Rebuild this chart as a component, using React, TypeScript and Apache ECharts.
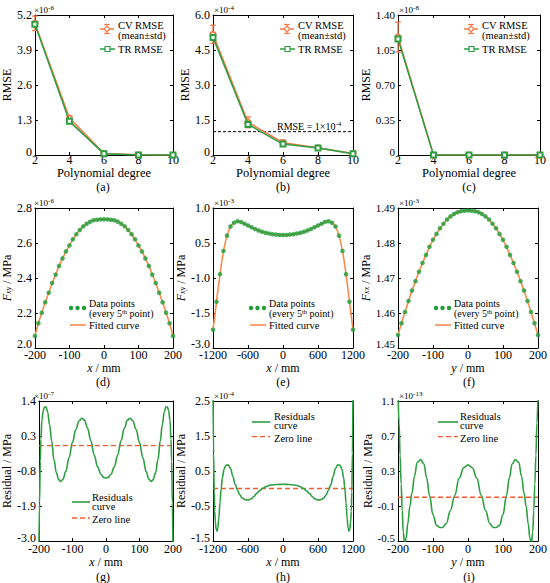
import React, { useEffect, useRef } from "react";
import * as echarts from "echarts";

const FONT = "Liberation Serif";
const ORANGE = "#F47846";
const GREEN = "#2E9E42";
const DOT_GREEN = "#1F9E3A";
const FIT_ORANGE = "#F98C4E";
const ZERO_RED = "#F25C36";

// ---------- Row 1: RMSE vs polynomial degree ----------
const degrees = [2, 4, 6, 8, 10];
const degreeTicks = [2, 4, 6, 8, 10];
const degreeLabels = ["2", "4", "6", "8", "10"];

const cvMeanA = [4.89, 1.37, 0.06, 0.01, 0.0];
const cvStdA = [0.27, 0.08, 0.02, 0.0, 0.0];
const trA = [4.86, 1.25, 0.05, 0.0, 0.0];
const yTicksA = [0, 1.3, 2.6, 3.9, 5.2];
const yLabelsA = ["0", "1.3", "2.6", "3.9", "5.2"];

const cvMeanB = [5.17, 1.4, 0.53, 0.31, 0.06];
const cvStdB = [0.39, 0.23, 0.12, 0.03, 0.01];
const trB = [5.04, 1.31, 0.47, 0.3, 0.05];
const thresholdB = 1.0;
const yTicksB = [0, 1.5, 3.0, 4.5, 6.0];
const yLabelsB = ["0", "1.5", "3.0", "4.5", "6.0"];

const cvMeanC = [1.18, 0.0, 0.0, 0.0, 0.0];
const cvStdC = [0.15, 0.0, 0.0, 0.0, 0.0];
const trC = [1.16, 0.0, 0.0, 0.0, 0.0];
const yTicksC = [0, 0.35, 0.7, 1.05, 1.4];
const yLabelsC = ["0", "0.35", "0.70", "1.05", "1.40"];

// ---------- Row 2: fitted functions ----------
const xD = [-200, -190, -180, -170, -160, -150, -140, -130, -120, -110, -100, -90, -80, -70, -60, -50, -40, -30, -20, -10, 0,
  10, 20, 30, 40, 50, 60, 70, 80, 90, 100, 110, 120, 130, 140, 150, 160, 170, 180, 190, 200];
const fD = [2.069, 2.141, 2.202, 2.261, 2.316, 2.371, 2.419, 2.469, 2.512, 2.552, 2.586, 2.621, 2.65, 2.674, 2.695, 2.71, 2.722, 2.73, 2.733, 2.735, 2.736,
  2.735, 2.733, 2.73, 2.722, 2.71, 2.695, 2.674, 2.65, 2.621, 2.586, 2.552, 2.512, 2.469, 2.419, 2.371, 2.316, 2.261, 2.202, 2.141, 2.069];
const xTicksD = [-200, -100, 0, 100, 200];
const xLabelsD = ["-200", "-100", "0", "100", "200"];
const yTicksD = [2.0, 2.2, 2.4, 2.6, 2.8];
const yLabelsD = ["2.0", "2.2", "2.4", "2.6", "2.8"];

const xE = [-1200, -1140, -1080, -1020, -960, -900, -840, -780, -720, -660, -600, -540, -480, -420, -360, -300, -240, -180, -120, -60, 0,
  60, 120, 180, 240, 300, 360, 420, 480, 540, 600, 660, 720, 780, 840, 900, 960, 1020, 1080, 1140, 1200];
// values in tick-position units (0 = "-3.0" tick ... 4 = "1.0" tick)
const fE = [0.52, 1.32, 2.11, 2.77, 3.21, 3.47, 3.58, 3.62, 3.6, 3.55, 3.5, 3.45, 3.4, 3.36, 3.32, 3.29, 3.27, 3.25, 3.24, 3.23, 3.23,
  3.23, 3.24, 3.25, 3.27, 3.29, 3.32, 3.36, 3.4, 3.45, 3.5, 3.55, 3.6, 3.62, 3.58, 3.47, 3.21, 2.77, 2.11, 1.32, 0.52];
const xTicksE = [-1200, -600, 0, 600, 1200];
const xLabelsE = ["-1200", "-600", "0", "600", "1200"];
const yTicksE = [0, 1, 2, 3, 4];
const yLabelsE = ["-3.0", "-1.5", "-1.0", "0.5", "1.0"];

const xF = xD;
const fF = [1.4537, 1.4571, 1.4603, 1.4634, 1.4664, 1.4691, 1.4718, 1.4743, 1.4766, 1.4789, 1.4809, 1.4826, 1.4842, 1.4855, 1.4867, 1.4876, 1.4883, 1.4888, 1.4891, 1.4892, 1.4893,
  1.4892, 1.4891, 1.4888, 1.4883, 1.4876, 1.4867, 1.4855, 1.4842, 1.4826, 1.4809, 1.4789, 1.4766, 1.4743, 1.4718, 1.4691, 1.4664, 1.4634, 1.4603, 1.4571, 1.4537];
const yTicksF = [1.45, 1.46, 1.47, 1.48, 1.49];
const yLabelsF = ["1.45", "1.46", "1.47", "1.48", "1.49"];

// ---------- Row 3: residuals ----------
const xG = [-200, -198, -196, -194, -191, -187, -183, -179, -174, -168, -162, -155, -148, -141, -135, -128, -120, -110, -100, -90, -80, -72, -64, -55, -45, -35, -25, -15, -7, 0,
  7, 15, 25, 35, 45, 55, 64, 72, 80, 90, 100, 110, 120, 128, 135, 141, 148, 155, 162, 168, 174, 179, 183, 187, 191, 194, 196, 198, 200];
const rG = [-3.3, -1.8, -0.5, 0.2, 0.8, 1.1, 1.21, 1.22, 1.05, 0.65, 0.15, -0.45, -0.85, -1.07, -1.13, -1.06, -0.82, -0.38, 0.1, 0.5, 0.78, 0.86, 0.8, 0.55, 0.15, -0.3, -0.67, -0.9, -1.0, -1.02,
  -1.0, -0.9, -0.67, -0.3, 0.15, 0.55, 0.8, 0.86, 0.78, 0.5, 0.1, -0.38, -0.82, -1.06, -1.13, -1.07, -0.85, -0.45, 0.15, 0.65, 1.05, 1.22, 1.21, 1.1, 0.8, 0.2, -0.5, -1.8, -3.3];
const zeroG = 0;
const yTicksG = [-3.0, -1.9, -0.8, 0.3, 1.4];
const yLabelsG = ["-3.0", "-1.9", "-0.8", "0.3", "1.4"];

const xH = [-1200, -1190, -1180, -1170, -1160, -1145, -1130, -1115, -1100, -1080, -1060, -1040, -1010, -980, -940, -900, -860, -820, -780, -740, -700, -650, -600, -550, -500, -450, -400, -350, -300, -250, -200, -100, 0,
  100, 200, 250, 300, 350, 400, 450, 500, 550, 600, 650, 700, 740, 780, 820, 860, 900, 940, 980, 1010, 1040, 1060, 1080, 1100, 1115, 1130, 1145, 1160, 1170, 1180, 1190, 1200];
const rH = [3.0, 1.0, -0.1, -0.65, -0.95, -1.17, -1.22, -1.12, -0.85, -0.4, 0.0, 0.3, 0.55, 0.66, 0.68, 0.58, 0.35, 0.12, -0.05, -0.18, -0.27, -0.32, -0.33, -0.3, -0.23, -0.14, -0.06, 0.0, 0.05, 0.08, 0.1, 0.115, 0.12,
  0.115, 0.1, 0.08, 0.05, 0.0, -0.06, -0.14, -0.23, -0.3, -0.33, -0.32, -0.27, -0.18, -0.05, 0.12, 0.35, 0.58, 0.68, 0.66, 0.55, 0.3, 0.0, -0.4, -0.85, -1.12, -1.22, -1.17, -0.95, -0.65, -0.1, 1.0, 3.0];
const zeroH = 0;
const yTicksH = [-1.5, -0.5, 0.5, 1.5, 2.5];
const yLabelsH = ["-1.5", "-0.5", "0.5", "1.5", "2.5"];

const xI = [-200, -197, -194, -191, -188, -185, -181, -177, -172, -166, -160, -153, -145, -135, -126, -118, -110, -100, -90, -80, -72, -62, -50, -38, -25, -12, 0,
  12, 25, 38, 50, 62, 72, 80, 90, 100, 110, 118, 126, 135, 145, 153, 160, 166, 172, 177, 181, 185, 188, 191, 194, 197, 200];
const rI = [1.2, 0.85, 0.48, 0.15, -0.15, -0.4, -0.53, -0.47, -0.3, -0.1, 0.05, 0.24, 0.4, 0.43, 0.38, 0.22, 0.02, -0.2, -0.32, -0.345, -0.345, -0.3, -0.15, 0.02, 0.22, 0.34, 0.37,
  0.34, 0.22, 0.02, -0.15, -0.3, -0.345, -0.345, -0.32, -0.2, 0.02, 0.22, 0.38, 0.43, 0.4, 0.24, 0.05, -0.1, -0.3, -0.47, -0.53, -0.4, -0.15, 0.15, 0.48, 0.85, 1.2];
const zeroI = 0;
const yTicksI = [-0.5, -0.1, 0.3, 0.7, 1.1];
const yLabelsI = ["-0.5", "-0.1", "0.3", "0.7", "1.1"];

// ---------- layout ----------
const COLS = [{ l: 33, w: 140 }, { l: 213, w: 140 }, { l: 398, w: 142 }];
const ROWS = [{ t: 15, h: 140 }, { t: 208, h: 140 }, { t: 401, h: 140 }];
const X_LABEL_MARGIN = [0, 2, 3];
const X_NAME_GAP = [10, 13, 14];
const X_NAME_SIZE = [12.5, 12, 12];
const X_NAME_LH = [12, 12, 12];
const Y_LABEL_SIZE = [12, 12, 11];
const Y_MIN_RAISE = [6, 9, 6];
const Y_NAME_GAP = [[20.5, 20.5, 23], [19, 20, 23], [18.7, 19.5, 23]];
const LETTER_Y = [187, 382, 577];

type Panel = {
  row: number; col: number;
  xMin: number; xMax: number; xTicks: number[]; xLabels: string[];
  yMin: number; yMax: number; yTicks: number[]; yLabels: string[];
  xName: string; yName: string; exp: string; letter: string;
};

const panels: Panel[] = [
  { row: 0, col: 0, xMin: 2, xMax: 10, xTicks: degreeTicks, xLabels: degreeLabels, yMin: 0, yMax: 5.2, yTicks: yTicksA, yLabels: yLabelsA, xName: "Polynomial degree", yName: "RMSE", exp: "-6", letter: "(a)" },
  { row: 0, col: 1, xMin: 2, xMax: 10, xTicks: degreeTicks, xLabels: degreeLabels, yMin: 0, yMax: 6, yTicks: yTicksB, yLabels: yLabelsB, xName: "Polynomial degree", yName: "RMSE", exp: "-4", letter: "(b)" },
  { row: 0, col: 2, xMin: 2, xMax: 10, xTicks: degreeTicks, xLabels: degreeLabels, yMin: 0, yMax: 1.4, yTicks: yTicksC, yLabels: yLabelsC, xName: "Polynomial degree", yName: "RMSE", exp: "-8", letter: "(c)" },
  { row: 1, col: 0, xMin: -200, xMax: 200, xTicks: xTicksD, xLabels: xLabelsD, yMin: 2.0, yMax: 2.8, yTicks: yTicksD, yLabels: yLabelsD, xName: "{i|x} / mm", yName: "{i|F}{s|xy} / MPa", exp: "-6", letter: "(d)" },
  { row: 1, col: 1, xMin: -1200, xMax: 1200, xTicks: xTicksE, xLabels: xLabelsE, yMin: 0, yMax: 4, yTicks: yTicksE, yLabels: yLabelsE, xName: "{i|x} / mm", yName: "{i|F}{s|xy} / MPa", exp: "-3", letter: "(e)" },
  { row: 1, col: 2, xMin: -200, xMax: 200, xTicks: xTicksD, xLabels: xLabelsD, yMin: 1.45, yMax: 1.49, yTicks: yTicksF, yLabels: yLabelsF, xName: "{i|y} / mm", yName: "{i|F}{s|xx} / MPa", exp: "-3", letter: "(f)" },
  { row: 2, col: 0, xMin: -200, xMax: 200, xTicks: xTicksD, xLabels: xLabelsD, yMin: -3.0, yMax: 1.4, yTicks: yTicksG, yLabels: yLabelsG, xName: "{i|x} / mm", yName: "Residual / MPa", exp: "-7", letter: "(g)" },
  { row: 2, col: 1, xMin: -1200, xMax: 1200, xTicks: xTicksE, xLabels: xLabelsE, yMin: -1.5, yMax: 2.5, yTicks: yTicksH, yLabels: yLabelsH, xName: "{i|x} / mm", yName: "Residual / MPa", exp: "-4", letter: "(h)" },
  { row: 2, col: 2, xMin: -200, xMax: 200, xTicks: xTicksD, xLabels: xLabelsD, yMin: -0.5, yMax: 1.1, yTicks: yTicksI, yLabels: yLabelsI, xName: "{i|y} / mm", yName: "Residual / MPa", exp: "-13", letter: "(i)" },
];

// bottom-most y label is raised a little, as in the reference
function lookup(ticks: number[], labels: string[], raiseFirst = false) {
  return (v: number) => {
    for (let k = 0; k < ticks.length; k++) {
      if (Math.abs(ticks[k] - v) < 1e-7) return raiseFirst && k === 0 ? `{m|${labels[k]}}` : labels[k];
    }
    return "";
  };
}

const yNameRich = {
  i: { fontStyle: "italic", fontFamily: FONT, fontSize: 12, color: "#000", lineHeight: 10 },
  s: { fontStyle: "italic", fontFamily: FONT, fontSize: 8, color: "#000", verticalAlign: "bottom", lineHeight: 2 },
};

function buildAxes() {
  const grid: any[] = [];
  const xAxis: any[] = [];
  const yAxis: any[] = [];
  panels.forEach((p, i) => {
    const c = COLS[p.col];
    const r = ROWS[p.row];
    grid.push({ left: c.l, top: r.t, width: c.w, height: r.h, containLabel: false });
    const line = { show: true, onZero: false, lineStyle: { color: "#000", width: 1 } };
    const tickX = { show: true, inside: true, length: 3, customValues: p.xTicks, lineStyle: { color: "#000", width: 1 } };
    const tickY = { show: true, inside: true, length: 3, customValues: p.yTicks, lineStyle: { color: "#000", width: 1 } };
    const base = { color: "#000", fontFamily: FONT };
    xAxis.push({
      type: "value", gridIndex: i, position: "bottom", min: p.xMin, max: p.xMax,
      axisLine: line, axisTick: tickX, splitLine: { show: false },
      axisLabel: { ...base, fontSize: 12, lineHeight: 10, margin: X_LABEL_MARGIN[p.row], customValues: p.xTicks, formatter: lookup(p.xTicks, p.xLabels) },
      name: p.xName, nameLocation: "middle", nameGap: X_NAME_GAP[p.row],
      nameTextStyle: {
        ...base, fontSize: X_NAME_SIZE[p.row], lineHeight: X_NAME_LH[p.row],
        rich: { i: { fontStyle: "italic", fontFamily: FONT, fontSize: 12, color: "#000", lineHeight: X_NAME_LH[p.row] } },
      },
    });
    xAxis.push({
      type: "value", gridIndex: i, position: "top", min: p.xMin, max: p.xMax,
      axisLine: line, axisTick: tickX, splitLine: { show: false }, axisLabel: { show: false },
    });
    const ySize = Y_LABEL_SIZE[p.col];
    yAxis.push({
      type: "value", gridIndex: i, position: "left", min: p.yMin, max: p.yMax,
      axisLine: line, axisTick: tickY, splitLine: { show: false },
      axisLabel: {
        ...base, fontSize: ySize, lineHeight: 10, margin: 3, customValues: p.yTicks,
        formatter: lookup(p.yTicks, p.yLabels, true),
        rich: { m: { fontFamily: FONT, fontSize: ySize, color: "#000", lineHeight: 10, padding: [0, 0, Y_MIN_RAISE[p.row], 0] } },
      },
      name: p.yName, nameLocation: "middle", nameRotate: 90, nameGap: Y_NAME_GAP[p.row][p.col],
      nameTextStyle: { ...base, fontSize: 12, lineHeight: 10, rich: yNameRich },
    });
    yAxis.push({
      type: "value", gridIndex: i, position: "right", min: p.yMin, max: p.yMax,
      axisLine: line, axisTick: tickY, splitLine: { show: false }, axisLabel: { show: false },
    });
  });
  return { grid, xAxis, yAxis };
}

function errorBarRender(params: any, api: any) {
  const std = api.value(3);
  if (!(std > 0)) return { type: "group", children: [] };
  const lo = api.coord([api.value(0), api.value(1)]);
  const hi = api.coord([api.value(0), api.value(2)]);
  const cw = 2.8;
  const style = { stroke: ORANGE, lineWidth: 1.3, fill: "none" };
  return {
    type: "group",
    children: [
      { type: "line", shape: { x1: lo[0], y1: lo[1], x2: hi[0], y2: hi[1] }, style },
      { type: "line", shape: { x1: lo[0] - cw, y1: lo[1], x2: lo[0] + cw, y2: lo[1] }, style },
      { type: "line", shape: { x1: hi[0] - cw, y1: hi[1], x2: hi[0] + cw, y2: hi[1] }, style },
    ],
  };
}

function rmseSeries(i: number, cvMean: number[], cvStd: number[], tr: number[]) {
  const ax = { xAxisIndex: 2 * i, yAxisIndex: 2 * i };
  return [
    {
      type: "custom", ...ax, z: 3, renderItem: errorBarRender, encode: { x: 0, y: [1, 2] },
      data: degrees.map((d, k) => [d, cvMean[k] - cvStd[k], cvMean[k] + cvStd[k], cvStd[k]]),
    },
    {
      type: "line", name: "CV RMSE", ...ax, z: 4, data: degrees.map((d, k) => [d, cvMean[k]]),
      symbol: "emptyCircle", symbolSize: 5, lineStyle: { color: ORANGE, width: 1.5 },
      itemStyle: { color: ORANGE, borderWidth: 1.2 },
    },
    {
      type: "line", name: "TR RMSE", ...ax, z: 5, data: degrees.map((d, k) => [d, tr[k]]),
      symbol: "emptyRect", symbolSize: 5, lineStyle: { color: GREEN, width: 1.5 },
      itemStyle: { color: GREEN, borderWidth: 1.2 },
    },
  ];
}

function fitSeries(i: number, xs: number[], ys: number[]) {
  const ax = { xAxisIndex: 2 * i, yAxisIndex: 2 * i };
  const pts = xs.map((x, k) => [x, ys[k]]);
  return [
    {
      type: "line", name: "Fitted curve", ...ax, z: 3, data: pts, smooth: 0.4, symbol: "none",
      lineStyle: { color: FIT_ORANGE, width: 1.6 },
    },
    {
      type: "scatter", name: "Data points", ...ax, z: 4, data: pts, symbol: "circle", symbolSize: 4.6,
      itemStyle: { color: DOT_GREEN },
    },
  ];
}

function residualSeries(i: number, xs: number[], ys: number[], zero: number, xMin: number, xMax: number) {
  const ax = { xAxisIndex: 2 * i, yAxisIndex: 2 * i };
  return [
    {
      type: "line", name: "Zero line", ...ax, z: 3, data: [[xMin, zero], [xMax, zero]], symbol: "none",
      lineStyle: { color: ZERO_RED, width: 1.3, type: [5, 3] },
    },
    {
      type: "line", name: "Residuals curve", ...ax, z: 4, data: xs.map((x, k) => [x, ys[k]]),
      smooth: 0.4, smoothMonotone: "x", symbol: "none", lineStyle: { color: GREEN, width: 1.6 },
    },
  ];
}

function txt(x: number, y: number, text: string, size: number, extra: any = {}) {
  return {
    type: "text", x, y, silent: true,
    style: {
      text, fontFamily: FONT, fontSize: size, fill: "#000", align: "left", verticalAlign: "middle",
      ...extra,
    },
  };
}

const supRich = { e: { fontFamily: FONT, fontSize: 7, fill: "#000", verticalAlign: "top", lineHeight: 7 } };

function buildGraphics() {
  const g: any[] = [];
  panels.forEach((p) => {
    const c = COLS[p.col];
    const r = ROWS[p.row];
    const L = c.l, T = r.t, R = c.l + c.w;
    // exponent label
    g.push(txt(L + 1, T + 1, `×10{e|${p.exp}}`, 9, { verticalAlign: "bottom", lineHeight: 12, rich: supRich }));
    // panel letter
    g.push(txt(L + c.w / 2, LETTER_Y[p.row], p.letter, 12, { align: "center", lineHeight: 10 }));

    if (p.row === 0) {
      const dx = p.col === 2 ? -3 : 0;
      const ix = R - 66 + dx;
      g.push({ type: "line", silent: true, shape: { x1: R - 73 + dx, y1: T + 14, x2: R - 59 + dx, y2: T + 14 }, style: { stroke: ORANGE, lineWidth: 1.5 } });
      g.push({ type: "line", silent: true, shape: { x1: ix, y1: T + 9.5, x2: ix, y2: T + 18.5 }, style: { stroke: ORANGE, lineWidth: 1.3 } });
      g.push({ type: "line", silent: true, shape: { x1: ix - 2.8, y1: T + 9.5, x2: ix + 2.8, y2: T + 9.5 }, style: { stroke: ORANGE, lineWidth: 1.3 } });
      g.push({ type: "line", silent: true, shape: { x1: ix - 2.8, y1: T + 18.5, x2: ix + 2.8, y2: T + 18.5 }, style: { stroke: ORANGE, lineWidth: 1.3 } });
      g.push({ type: "circle", silent: true, shape: { cx: ix, cy: T + 14, r: 2.2 }, style: { fill: "#fff", stroke: ORANGE, lineWidth: 1.2 } });
      g.push(txt(R - 55 + dx, T + 15, "CV RMSE\n(mean±std)", 10.5, { lineHeight: 10 }));
      g.push({ type: "line", silent: true, shape: { x1: R - 73 + dx, y1: T + 34, x2: R - 58 + dx, y2: T + 34 }, style: { stroke: GREEN, lineWidth: 1.5 } });
      g.push({ type: "rect", silent: true, shape: { x: R - 68 + dx, y: T + 31.5, width: 5, height: 5 }, style: { fill: "#fff", stroke: GREEN, lineWidth: 1.2 } });
      g.push(txt(R - 55 + dx, T + 34.5, "TR RMSE", 10.5, { lineHeight: 10 }));
    } else if (p.row === 1) {
      [38, 44.5, 51].forEach((ox) => {
        g.push({ type: "circle", silent: true, shape: { cx: L + ox, cy: T + 100, r: 2.2 }, style: { fill: DOT_GREEN } });
      });
      g.push(txt(L + 56, T + 100, "Data points\n(every 5{s|th} point)", 10, {
        lineHeight: 10,
        rich: { s: { fontFamily: FONT, fontSize: 6.5, fill: "#000", verticalAlign: "top", lineHeight: 5 } },
      }));
      g.push({ type: "line", silent: true, shape: { x1: L + 37, y1: T + 117, x2: L + 53, y2: T + 117 }, style: { stroke: FIT_ORANGE, lineWidth: 1.6 } });
      g.push(txt(L + 56, T + 117.5, "Fitted curve", 10.5, { lineHeight: 10 }));
    } else {
      const cfg = p.col === 0
        ? { i0: 39, i1: 57, tx: 59, yc: 101.3, yl: 101, yz: 117 }
        : p.col === 1
          ? { i0: 39, i1: 57, tx: 61, yc: 20.7, yl: 21, yz: 35.7 }
          : { i0: 40, i1: 60, tx: 62, yc: 20.7, yl: 21, yz: 35.7 };
      g.push({ type: "line", silent: true, shape: { x1: L + cfg.i0, y1: T + cfg.yl, x2: L + cfg.i1, y2: T + cfg.yl }, style: { stroke: GREEN, lineWidth: 1.6 } });
      g.push(txt(L + cfg.tx, T + cfg.yc - 0.5, "Residuals\ncurve", 10.5, { lineHeight: 9.5 }));
      g.push({ type: "line", silent: true, shape: { x1: L + cfg.i0, y1: T + cfg.yz, x2: L + cfg.i1, y2: T + cfg.yz }, style: { stroke: ZERO_RED, lineWidth: 1.3, lineDash: [5, 3] } });
      g.push(txt(L + cfg.tx, T + cfg.yz + 1.5, "Zero line", 10.5, { lineHeight: 10 }));
    }
  });
  // threshold annotation in (b)
  const cb = COLS[1], rb = ROWS[0];
  g.push(txt(cb.l + 64, rb.t + 117.5, "RMSE = 1×10{e|-4}", 10, { verticalAlign: "bottom", lineHeight: 12, rich: supRich }));
  return g;
}

function buildOption() {
  const { grid, xAxis, yAxis } = buildAxes();
  const series: any[] = [
    ...rmseSeries(0, cvMeanA, cvStdA, trA),
    ...rmseSeries(1, cvMeanB, cvStdB, trB),
    {
      type: "line", name: "RMSE threshold", xAxisIndex: 2, yAxisIndex: 2, z: 2,
      data: [[degrees[0], thresholdB], [degrees[degrees.length - 1], thresholdB]], symbol: "none",
      lineStyle: { color: "#000", width: 1, type: [3, 2] },
    },
    ...rmseSeries(2, cvMeanC, cvStdC, trC),
    ...fitSeries(3, xD, fD),
    ...fitSeries(4, xE, fE),
    ...fitSeries(5, xF, fF),
    ...residualSeries(6, xG, rG, zeroG, -200, 200),
    ...residualSeries(7, xH, rH, zeroH, -1200, 1200),
    ...residualSeries(8, xI, rI, zeroI, -200, 200),
  ];
  return {
    animation: false,
    backgroundColor: "#fff",
    textStyle: { fontFamily: FONT },
    grid, xAxis, yAxis, series,
    graphic: buildGraphics(),
  };
}

export default function App() {
  const ref = useRef<HTMLDivElement>(null);
  useEffect(() => {
    if (!ref.current) return;
    const chart = echarts.init(ref.current, undefined, { renderer: "svg" });
    chart.setOption(buildOption() as any);
    return () => chart.dispose();
  }, []);
  return <div ref={ref} style={{ position: "absolute", left: 0, top: 0, width: 550, height: 583 }} />;
}
